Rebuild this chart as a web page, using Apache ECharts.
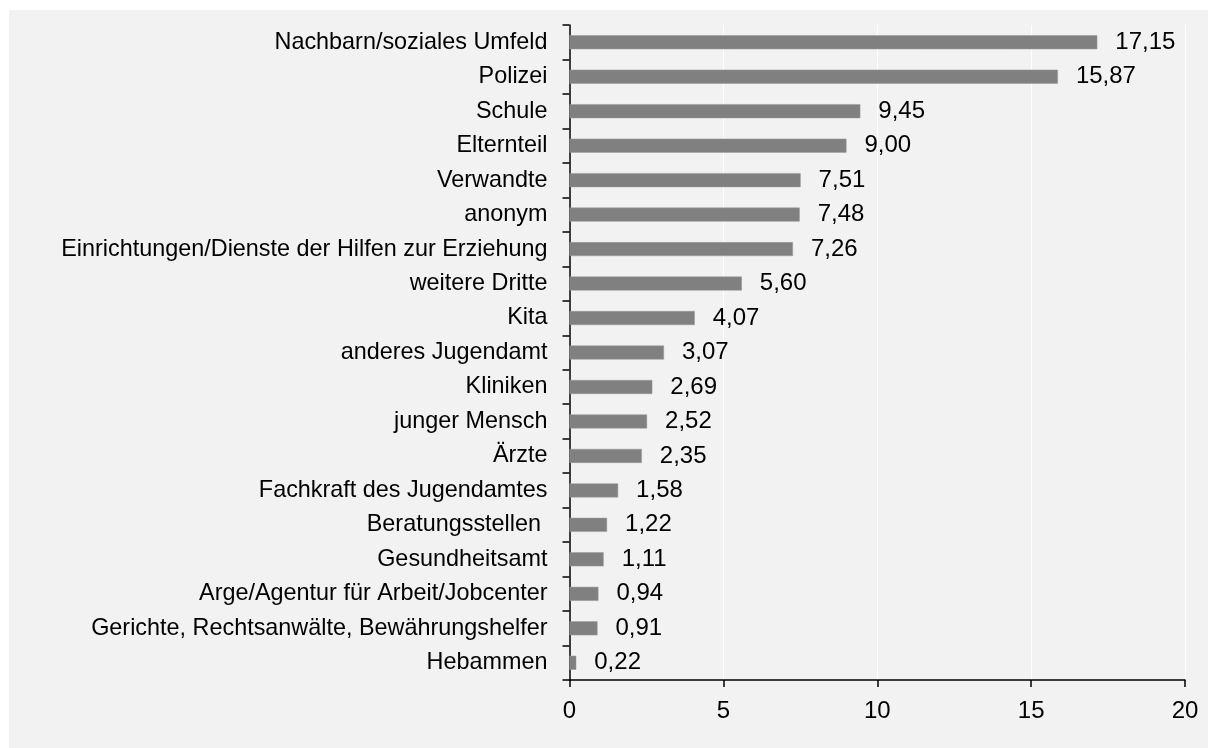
<!DOCTYPE html>
<html>
<head>
<meta charset="utf-8">
<script src="https://cdn.jsdelivr.net/npm/echarts@6/dist/echarts.min.js"></script>
<style>
html,body{margin:0;padding:0;background:#fff;width:1208px;height:748px;overflow:hidden;}
#chart{position:absolute;left:9px;top:10px;width:1199px;height:738px;background:#f2f2f2;}
</style>
</head>
<body>
<div id="chart"></div>
<script>
const categories = [
  "Nachbarn/soziales Umfeld",
  "Polizei",
  "Schule",
  "Elternteil",
  "Verwandte",
  "anonym",
  "Einrichtungen/Dienste der Hilfen zur Erziehung",
  "weitere Dritte",
  "Kita",
  "anderes Jugendamt",
  "Kliniken",
  "junger Mensch",
  "Ärzte",
  "Fachkraft des Jugendamtes",
  "Beratungsstellen ",
  "Gesundheitsamt",
  "Arge/Agentur für Arbeit/Jobcenter",
  "Gerichte, Rechtsanwälte, Bewährungshelfer",
  "Hebammen"
];
const values = [17.15, 15.87, 9.45, 9.00, 7.51, 7.48, 7.26, 5.60, 4.07, 3.07, 2.69, 2.52, 2.35, 1.58, 1.22, 1.11, 0.94, 0.91, 0.22];
const xTicks = [0, 5, 10, 15, 20];

const fontFam = '"Liberation Sans", Arial, sans-serif';
const chart = echarts.init(document.getElementById('chart'), null, {renderer: 'canvas'});
chart.setOption({
  animation: false,
  backgroundColor: 'transparent',
  grid: {left: 560.5, right: 23, top: 15, bottom: 68, containLabel: false},
  xAxis: {
    type: 'value',
    min: xTicks[0], max: xTicks[xTicks.length - 1], interval: 5,
    axisLine: {show: true, lineStyle: {color: '#000', width: 1.5}},
    axisTick: {show: true, length: 7, lineStyle: {color: '#000', width: 1.5}},
    axisLabel: {color: '#000', fontSize: 24, fontFamily: fontFam, margin: 19},
    splitLine: {show: true, lineStyle: {color: '#fff', width: 1}}
  },
  yAxis: {
    type: 'category',
    data: categories.slice().reverse(),
    axisLine: {show: true, lineStyle: {color: '#000', width: 1.5}},
    axisTick: {show: true, length: 7, lineStyle: {color: '#000', width: 1.5}},
    axisLabel: {color: '#000', fontSize: 23.4, fontFamily: fontFam, margin: 22},
    splitLine: {show: false}
  },
  series: [{
    type: 'bar',
    data: values.slice().reverse(),
    barWidth: 14,
    itemStyle: {color: '#808080', borderColor: '#999', borderWidth: 0.5},
    label: {
      show: true, position: 'right', distance: 18,
      color: '#000', fontSize: 24, fontFamily: fontFam,
      formatter: p => p.value.toFixed(2).replace('.', ',')
    }
  }]
});
</script>
</body>
</html>
